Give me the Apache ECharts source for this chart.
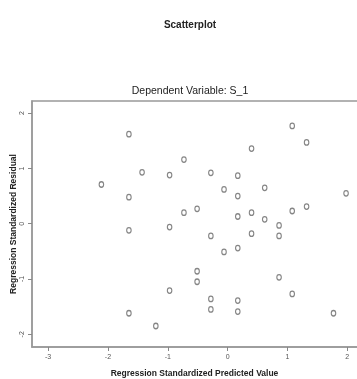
<!DOCTYPE html>
<html><head><meta charset="utf-8">
<script src="https://cdn.jsdelivr.net/npm/echarts@6/dist/echarts.min.js"></script>
<style>html,body{margin:0;padding:0;background:#fff}#c{width:357px;height:379px}</style>
</head><body><div id="c"></div>
<script>
const chartTitle = "Scatterplot";
const subTitle = "Dependent Variable: S_1";
const xName = "Regression Standardized Predicted Value";
const yName = "Regression Standardized Residual";
const predicted = [-2.11,-1.65,-1.65,-1.65,-1.65,-1.43,-1.20,-0.97,-0.97,-0.97,-0.73,-0.73,-0.51,-0.51,-0.51,-0.28,-0.28,-0.28,-0.28,-0.06,-0.06,0.17,0.17,0.17,0.17,0.17,0.17,0.40,0.40,0.40,0.62,0.62,0.86,0.86,0.86,1.08,1.08,1.08,1.32,1.32,1.77,1.98];
const residual  = [0.71,1.62,0.48,-0.12,-1.62,0.93,-1.85,0.88,-0.06,-1.21,1.16,0.20,0.27,-0.86,-1.05,0.92,-0.22,-1.36,-1.55,0.62,-0.51,0.87,0.50,0.13,-0.44,-1.39,-1.59,1.36,0.20,-0.18,0.65,0.08,-0.03,-0.22,-0.97,1.77,0.23,-1.27,1.47,0.31,-1.62,0.55];
const xTicks = [-3,-2,-1,0,1,2];
const yTicks = [-2,-1,0,1,2];

const pts = predicted.map((v,i)=>[v,residual[i]]);
const chart = echarts.init(document.getElementById('c'));
const font = "'Liberation Sans', Arial, sans-serif";
chart.setOption({
  animation:false,
  title:[
    {text:chartTitle,left:185,top:15,textAlign:'center',textStyle:{fontFamily:font,fontSize:10,fontWeight:'bold',color:'#222'}},
    {text:subTitle,left:185,top:81,textAlign:'center',textStyle:{fontFamily:font,fontSize:10.5,fontWeight:'normal',color:'#222'}}
  ],
  grid:{left:32,top:101,right:-10,bottom:32,outerBoundsMode:'none',containLabel:false,show:true,borderColor:'#999',borderWidth:1.5},
  xAxis:{type:'value',min:-3.27,max:2.33,
    name:xName,nameLocation:'middle',nameGap:22,nameMoveOverlap:false,
    nameTextStyle:{fontFamily:font,fontSize:8.5,fontWeight:'bold',color:'#222',padding:[0,10,0,0]},
    axisLine:{show:true,onZero:false,lineStyle:{color:'#999',width:1.5}},
    axisTick:{show:true,length:4,lineStyle:{color:'#888'},customValues:xTicks},
    axisLabel:{fontFamily:font,fontSize:7,color:'#555',margin:7,customValues:xTicks},
    splitLine:{show:false}},
  yAxis:{type:'value',min:-2.23,max:2.22,
    name:yName,nameLocation:'middle',nameGap:14,nameMoveOverlap:false,
    nameTextStyle:{fontFamily:font,fontSize:8.5,fontWeight:'bold',color:'#222'},
    axisLine:{show:true,onZero:false,lineStyle:{color:'#999',width:1.5}},
    axisTick:{show:true,length:4,lineStyle:{color:'#888'},customValues:yTicks},
    axisLabel:{fontFamily:font,fontSize:7,color:'#555',margin:6,rotate:90,customValues:yTicks},
    splitLine:{show:false}},
  series:[{type:'scatter',data:pts,symbol:'circle',symbolSize:[4.5,5.5],
    itemStyle:{color:'#fff',borderColor:'#666',borderWidth:1.2}}]
});
</script></body></html>
